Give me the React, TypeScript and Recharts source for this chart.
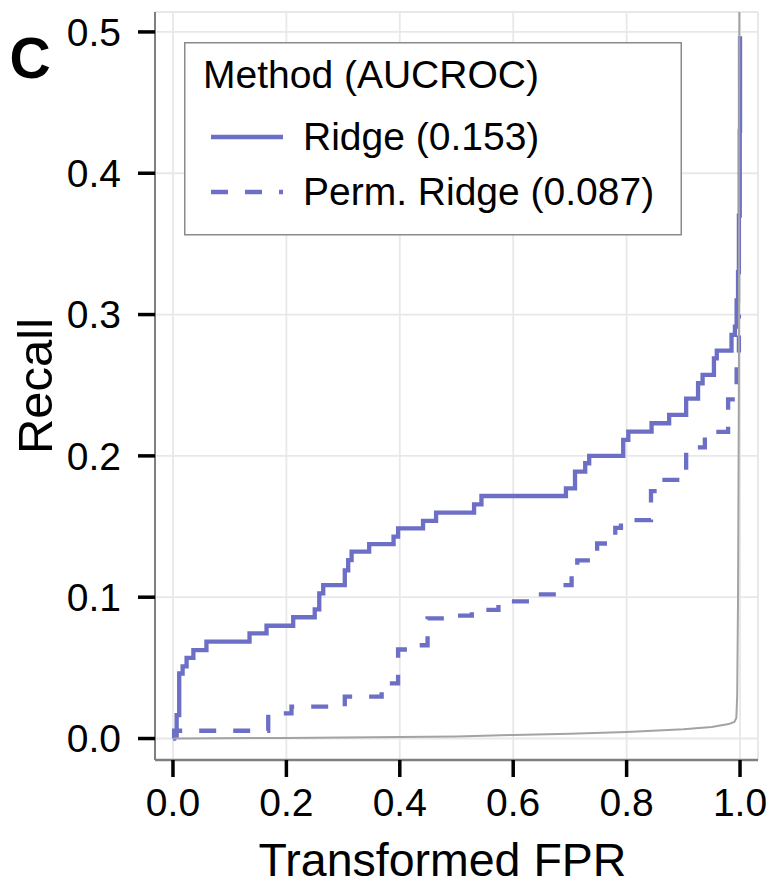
import React from 'react';
import { LineChart, Line, XAxis, YAxis, CartesianGrid, Legend } from 'recharts';

const FONT = '"Liberation Sans", Arial, Helvetica, sans-serif';

const ridgeFpr = [0, 0.0065, 0.011, 0.017, 0.024, 0.036, 0.059, 0.135, 0.165, 0.212, 0.25, 0.258, 0.265, 0.303, 0.309, 0.315, 0.346, 0.389, 0.397, 0.441, 0.464, 0.531, 0.544, 0.693, 0.709, 0.727, 0.734, 0.794, 0.803, 0.844, 0.875, 0.905, 0.926, 0.934, 0.954, 0.959, 0.985, 0.991, 0.994, 0.9965, 0.998, 0.9995, 1.0];
const ridgeRecall = [0.002, 0.0166, 0.046, 0.051, 0.057, 0.0626, 0.0685, 0.0744, 0.0798, 0.0858, 0.0914, 0.1027, 0.1086, 0.119, 0.1263, 0.1322, 0.1376, 0.1428, 0.1487, 0.154, 0.1598, 0.1657, 0.1716, 0.177, 0.1888, 0.1948, 0.2, 0.2113, 0.2171, 0.2231, 0.229, 0.2405, 0.2514, 0.2573, 0.269, 0.2745, 0.2856, 0.2914, 0.31, 0.33, 0.37, 0.43, 0.497];

const permFpr = [0, 0.002, 0.168, 0.209, 0.303, 0.368, 0.397, 0.427, 0.449, 0.482, 0.527, 0.574, 0.624, 0.684, 0.703, 0.713, 0.738, 0.748, 0.77, 0.78, 0.79, 0.843, 0.857, 0.905, 0.938, 0.979, 0.994, 0.998];
const permRecall = [0.0, 0.0055, 0.0178, 0.0225, 0.0296, 0.039, 0.063, 0.066, 0.085, 0.087, 0.091, 0.097, 0.102, 0.1086, 0.119, 0.126, 0.132, 0.138, 0.144, 0.149, 0.1546, 0.175, 0.183, 0.206, 0.217, 0.24, 0.265, 0.3];

const nullFpr = [0.0, 0.2, 0.4, 0.5, 0.6, 0.7, 0.8, 0.9, 0.95, 0.98, 0.99, 0.9935, 0.995, 0.9965, 0.998, 0.999];
const nullRecall = [0.0, 0.0004, 0.001, 0.0015, 0.0025, 0.0033, 0.0046, 0.0065, 0.0082, 0.0102, 0.0118, 0.0145, 0.03, 0.1, 0.25, 0.6];

const seriesNames = ['Ridge (0.153)', 'Perm. Ridge (0.087)'];
const legendTitle = 'Method (AUCROC)';
const xTitle = 'Transformed FPR';
const yTitle = 'Recall';
const panelTag = 'C';

const xTicks = [0, 0.2, 0.4, 0.6, 0.8, 1.0];
const yTicks = [0, 0.1, 0.2, 0.3, 0.4, 0.5];
const xMinorTicks = [0.1, 0.3, 0.5, 0.7, 0.9];
const yMinorTicks = [0.05, 0.15, 0.25, 0.35, 0.45];

const xDomain: [number, number] = [-0.0317, 1.0317];
const yDomain: [number, number] = [-0.0152, 0.5141];

const zip = (xs: number[], ys: number[]) => xs.map((x, i) => ({ x, y: ys[i] }));
const ridgeData = zip(ridgeFpr, ridgeRecall);
const permData = zip(permFpr, permRecall);
const nullData = zip(nullFpr, nullRecall);

const LINE_COLOR = '#6c6fc5';
const BORDER = '#7f7f7f';

const renderLegend = (props: any) => {
  const items = (props.payload || [])
    .filter((p: any) => p.type !== 'none' && seriesNames.indexOf(p.value) >= 0)
    .slice()
    .sort((a: any, b: any) => seriesNames.indexOf(a.value) - seriesNames.indexOf(b.value));
  return (
    <svg width={498} height={194} style={{ display: 'block' }}>
      <rect x={0.75} y={0.75} width={496.5} height={192} fill="#fff" stroke="#8a8a8a" strokeWidth={1.5} />
      <text x={19} y={46} fontSize={39} fontFamily={FONT} fill="#000">{legendTitle}</text>
      {items.map((item: any, i: number) => (
        <g key={i}>
          <line
            x1={27}
            x2={99}
            y1={95 + i * 55}
            y2={95 + i * 55}
            stroke={item.color}
            strokeWidth={4.3}
            strokeDasharray={item.payload && item.payload.strokeDasharray}
          />
          <text x={119} y={108 + i * 55} fontSize={39} fontFamily={FONT} fill="#000">{item.value}</text>
        </g>
      ))}
    </svg>
  );
};

const renderYTitle = (props: any) => {
  const vb = props.viewBox || { x: 0, y: 12, width: 155, height: 748 };
  const cx = vb.x + 34;
  const cy = vb.y + vb.height / 2;
  return (
    <text x={cx} y={cy} dy="0.358em" textAnchor="middle" fontSize={49} fontFamily={FONT} fill="#000" transform={`rotate(-90, ${cx}, ${cy})`}>
      {yTitle}
    </text>
  );
};

const renderXTitle = (props: any) => {
  const vb = props.viewBox || { x: 155, y: 760, width: 603, height: 136 };
  const cx = vb.x + vb.width / 2 - 14;
  return (
    <text x={cx} y={vb.y + 116} textAnchor="middle" fontSize={46.5} fontFamily={FONT} fill="#000">
      {xTitle}
    </text>
  );
};

const fmt = (v: number) => v.toFixed(1);

export default function App() {
  return (
    <div style={{ position: 'absolute', left: 0, top: 0, width: 770, height: 896, background: '#fff', fontFamily: FONT }}>
      <LineChart width={770} height={896} margin={{ top: 12, right: 12, bottom: 0, left: 0 }}>
        <CartesianGrid xAxisId="minor" yAxisId="minor" stroke="#f3f3f3" strokeWidth={1.5} />
        <CartesianGrid xAxisId={0} yAxisId={0} stroke="#e8e8e8" strokeWidth={1.8} />
        <XAxis
          xAxisId={0}
          type="number"
          dataKey="x"
          domain={xDomain}
          allowDataOverflow
          ticks={xTicks}
          interval={0}
          tickFormatter={fmt}
          height={136}
          tickSize={17}
          tickMargin={11}
          tick={{ fontSize: 39, fill: '#000', fontFamily: FONT }}
          tickLine={{ stroke: '#000', strokeWidth: 3.5 }}
          axisLine={{ stroke: BORDER, strokeWidth: 2.5 }}
          label={{ value: xTitle, content: renderXTitle }}
        />
        <XAxis
          xAxisId="minor"
          orientation="top"
          type="number"
          domain={xDomain}
          allowDataOverflow
          ticks={xMinorTicks}
          interval={0}
          height={0}
          tick={false}
          tickLine={false}
          axisLine={{ stroke: BORDER, strokeWidth: 2 }}
        />
        <YAxis
          yAxisId={0}
          type="number"
          domain={yDomain}
          allowDataOverflow
          ticks={yTicks}
          interval={0}
          tickFormatter={fmt}
          width={155}
          tickSize={17}
          tickMargin={17}
          tick={{ fontSize: 39, fill: '#000', fontFamily: FONT }}
          tickLine={{ stroke: '#000', strokeWidth: 3.5 }}
          axisLine={{ stroke: BORDER, strokeWidth: 2 }}
          label={{ value: yTitle, content: renderYTitle }}
        />
        <YAxis
          yAxisId="minor"
          orientation="right"
          type="number"
          domain={yDomain}
          allowDataOverflow
          ticks={yMinorTicks}
          interval={0}
          width={0}
          tick={false}
          tickLine={false}
          axisLine={{ stroke: BORDER, strokeWidth: 2.5 }}
        />
        <Legend
          content={renderLegend}
          layout="horizontal"
          verticalAlign="middle"
          align="center"
          wrapperStyle={{ left: 184, top: 42, width: 498, height: 194 }}
        />
        <Line
          data={ridgeData}
          dataKey="y"
          name={seriesNames[0]}
          type="stepAfter"
          stroke={LINE_COLOR}
          strokeWidth={4.3}
          dot={false}
          activeDot={false}
          isAnimationActive={false}
        />
        <Line
          data={permData}
          dataKey="y"
          name={seriesNames[1]}
          type="stepAfter"
          stroke={LINE_COLOR}
          strokeWidth={4.3}
          strokeDasharray="17 17"
          dot={false}
          activeDot={false}
          isAnimationActive={false}
        />
        <Line
          data={nullData}
          dataKey="y"
          name="null"
          legendType="none"
          type="linear"
          stroke="#a3a3a3"
          strokeWidth={2}
          dot={false}
          activeDot={false}
          isAnimationActive={false}
        />
      </LineChart>
      <svg width={770} height={896} style={{ position: 'absolute', left: 0, top: 0, pointerEvents: 'none' }}>
        <text x={9.5} y={78} fontSize={57} fontWeight="bold" fontFamily={FONT} fill="#000">{panelTag}</text>
      </svg>
    </div>
  );
}
